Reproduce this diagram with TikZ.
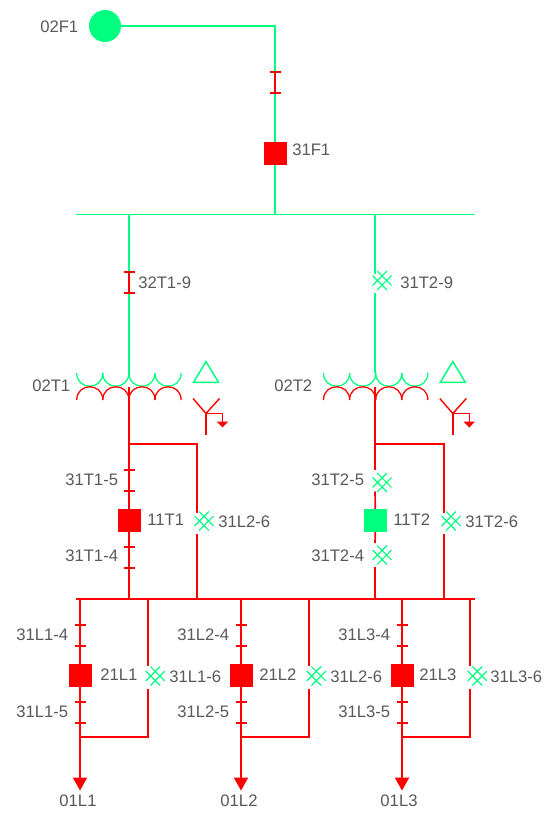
\documentclass[tikz,border=0pt]{standalone}
\usepackage{fontspec}
\setmainfont{Liberation Sans}
\definecolor{gr}{HTML}{00FF7F}
\definecolor{rd}{HTML}{FF0000}
\definecolor{tx}{HTML}{58585E}
\tikzset{
  lbl/.style={anchor=west,inner sep=0pt,text=tx,font=\fontsize{12.5pt}{14pt}\selectfont},
  lblc/.style={lbl,anchor=center},
  brk/.style={draw=none,fill=#1,minimum size=17.25pt,inner sep=0pt,outer sep=0pt,rectangle},
  rw/.style={draw=rd,line width=1.25pt},
  gw/.style={draw=gr,line width=1.15pt},
  iso/.pic={\draw[rd,line width=1pt] (-5.5,-10.5)--(5.5,-10.5) (-5.5,10.5)--(5.5,10.5) (0,-10.5)--(0,10.5);},
  hash/.pic={\draw[gr,line width=0.9pt]
     (-9.5,4.9)--(4.9,-9.5) (-4.9,9.5)--(9.5,-4.9)
     (-9.5,-4.9)--(4.9,9.5) (-4.9,-9.5)--(9.5,4.9);}
}
\begin{document}
\begin{tikzpicture}[x=0.75pt,y=-0.75pt]
\useasboundingbox (0,0) rectangle (552,816);
% nodes
\node[circle,fill=gr,minimum size=24pt,inner sep=0pt,outer sep=0pt] (src) at (105,26) {};
\node[brk=rd] (f1) at (275,153.5) {};
\node[brk=rd] (t1b) at (129,520.5) {};
\node[brk=gr] (t2b) at (375.3,520.5) {};
\node[brk=rd] (l1b) at (80,675.5) {};
\node[brk=rd] (l2b) at (241,675.5) {};
\node[brk=rd] (l3b) at (402,675.5) {};
% coordinates
\coordinate (c0) at (275,26);
\coordinate (busL) at (76,214.5); \coordinate (busR) at (475,214.5);
\coordinate (f1bus) at (275,214.5);
\coordinate (t1top) at (129,214.5); \coordinate (t2top) at (375,214.5);
\coordinate (t1prim) at (129,373); \coordinate (t2prim) at (375,373);
\coordinate (t2a) at (375,274); \coordinate (t2c) at (375,293);
\coordinate (t1sec) at (129,387); \coordinate (t2sec) at (375,387);
\coordinate (rbusL) at (76,599); \coordinate (rbusR) at (475,599);
% green side
\draw[gw] (src.center) -- (c0) -- (f1.north);
\draw[gw] (f1.south) -- (f1bus);
\draw[gw,line width=1.2pt] (busL) -- (busR);
\draw[gw] (t1top) -- (t1prim);
\draw[gw] (t2top) -- (t2a);
\draw[gw] (t2c) -- (t2prim);
\pic at (275,82.5) {iso};
\pic at (129,282.5) {iso};
\pic at (382,280.5) {hash};
% transformers
\foreach \ox in {0,246.8}{
 \foreach \i in {0,1,2,3}{
  \pgfmathsetmacro{\xa}{76.7+\ox+26.1*\i}
  \pgfmathsetmacro{\xb}{\xa+26.1}
  \draw[gr,line width=0.95pt] (\xa,373) .. controls (\xa,390.6) and (\xb,390.6) .. (\xb,373);
  \draw[rd,line width=0.95pt] (\xa,400) .. controls (\xa,382.4) and (\xb,382.4) .. (\xb,400);
 }
 \draw[gr,line width=1.1pt] (206+\ox,361.5) -- (218.5+\ox,382.3) -- (193.5+\ox,382.3) -- cycle;
 \draw[rd,line width=1.05pt] (193+\ox,398.5) -- (206+\ox,413.5) -- (219.5+\ox,398.5);
 \draw[rd,line width=1.05pt] (206+\ox,413.5) -- (206+\ox,434.5);
 \draw[rd,line width=1.05pt] (206+\ox,413.5) -- (222.5+\ox,413.5) -- (222.5+\ox,422);
 \fill[rd] (216.7+\ox,421.5) -- (228.3+\ox,421.5) -- (222.5+\ox,427.5) -- cycle;
}
% T1 bay
\coordinate (t1j) at (129,444); \coordinate (t1r) at (197,444);
\coordinate (t1g1) at (197,513); \coordinate (t1g2) at (197,534); \coordinate (t1e) at (197,599);
\coordinate (t1d) at (129,599);
\draw[rw] (t1sec) -- (t1b.north);
\draw[rw] (t1b.south) -- (t1d);
\draw[rw] (t1j) -- (t1r) -- (t1g1);
\draw[rw] (t1g2) -- (t1e);
\pic at (129,480.5) {iso};
\pic at (129,557.5) {iso};
\pic at (204,521) {hash};
% T2 bay
\coordinate (t2j) at (375,444); \coordinate (t2r) at (444,444);
\coordinate (t2g1) at (444,513); \coordinate (t2g2) at (444,534); \coordinate (t2e) at (444,599);
\coordinate (t2d) at (375,599);
\coordinate (t2p) at (375,470); \coordinate (t2q) at (375,491.5);
\coordinate (t2u) at (375,543); \coordinate (t2v) at (375,567);
\draw[rw] (t2sec) -- (t2p);
\draw[rw] (t2q) -- (t2b.north);
\draw[rw] (t2b.south) -- (t2u);
\draw[rw] (t2v) -- (t2d);
\draw[rw] (t2j) -- (t2r) -- (t2g1);
\draw[rw] (t2g2) -- (t2e);
\pic at (382,482.5) {hash};
\pic at (382,555) {hash};
\pic at (451,521) {hash};
% red bus
\draw[rw] (rbusL) -- (rbusR);
% feeders
\foreach \x/\b/\n in {80/l1b/1,241/l2b/2,402/l3b/3}{
  \pgfmathsetmacro{\xr}{\x+68}
  \pgfmathsetmacro{\xs}{\x+75.3}
  \coordinate (top\n) at (\x,599);
  \coordinate (j\n) at (\x,737);
  \coordinate (end\n) at (\x,780);
  \coordinate (tip\n) at (\x,790.5);
  \coordinate (rt\n) at (\xr,599);
  \coordinate (rg\n) at (\xr,665.5);
  \coordinate (rh\n) at (\xr,689);
  \coordinate (rb\n) at (\xr,737);
  \draw[rw] (top\n) -- (\b.north);
  \draw[rw] (\b.south) -- (end\n);
  \draw[rw] (rt\n) -- (rg\n);
  \draw[rw] (rh\n) -- (rb\n) -- (j\n);
  \fill[rd] (\x-7.3,777.5) -- (\x+7.3,777.5) -- (tip\n) -- cycle;
  \pic at (\x,635.5) {iso};
  \pic at (\x,712.5) {iso};
  \pic at (\xs,676) {hash};
}
% labels
\node[lbl] (n1) at (40,26.5) {02F1};
\node[lbl] (n2) at (292,149.5) {31F1};
\node[lbl] (n3) at (138,282.5) {32T1-9};
\node[lbl] (n4) at (400,282.5) {31T2-9};
\node[lbl] (n5) at (32,385.5) {02T1};
\node[lbl] (n6) at (274,385.5) {02T2};
\node[lbl] (n7) at (65,479.5) {31T1-5};
\node[lbl] (n8) at (147,519.5) {11T1};
\node[lbl] (n9) at (218,521.5) {31L2-6};
\node[lbl] (n10) at (65,555.5) {31T1-4};
\node[lbl] (n11) at (311,479.5) {31T2-5};
\node[lbl] (n12) at (393,519.5) {11T2};
\node[lbl] (n13) at (465,521.5) {31T2-6};
\node[lbl] (n14) at (311,555.5) {31T2-4};
\node[lbl] (n15) at (16,634.5) {31L1-4};
\node[lbl] (n16) at (100,674.5) {21L1};
\node[lbl] (n17) at (169,676.5) {31L1-6};
\node[lbl] (n18) at (16,711.5) {31L1-5};
\node[lblc] (n19) at (78,801) {01L1};
\node[lbl] (n20) at (177,634.5) {31L2-4};
\node[lbl] (n21) at (259,674.5) {21L2};
\node[lbl] (n22) at (330,676.5) {31L2-6};
\node[lbl] (n23) at (177,711.5) {31L2-5};
\node[lblc] (n24) at (239,801) {01L2};
\node[lbl] (n25) at (338,634.5) {31L3-4};
\node[lbl] (n26) at (419,674.5) {21L3};
\node[lbl] (n27) at (490,676.5) {31L3-6};
\node[lbl] (n28) at (338,711.5) {31L3-5};
\node[lblc] (n29) at (399,801) {01L3};
\end{tikzpicture}
\end{document}
